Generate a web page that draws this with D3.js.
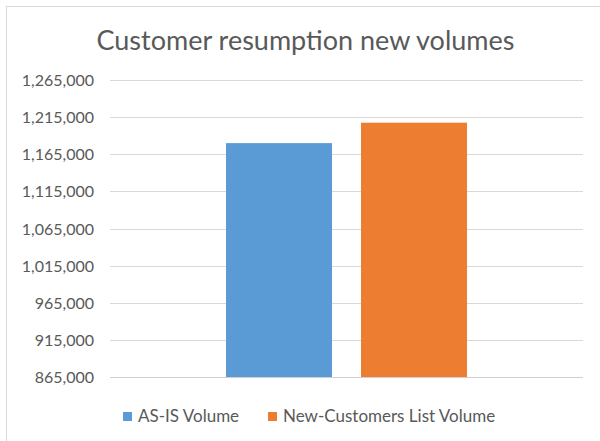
<!DOCTYPE html>
<html><head><meta charset="utf-8">
<script src="https://cdn.jsdelivr.net/npm/d3@7"></script>
<style>body{margin:0;background:#fff}svg{display:block}text{font-family:Lato,"Open Sans",sans-serif;fill:#595959}</style>
</head><body><svg id="c" width="600" height="441"></svg>
<script>
const title = "Customer resumption new volumes";
const categories = [""];
const seriesNames = ["AS-IS Volume", "New-Customers List Volume"];
const seriesValues = [1180000, 1207500];
const seriesColors = ["#5b9bd5", "#ed7d31"];
const tickValues = [865000, 915000, 965000, 1015000, 1065000, 1115000, 1165000, 1215000, 1265000];

const svg = d3.select("#c");
// outer frame (top and left edges visible)
svg.append("line").attr("x1",6).attr("x2",600).attr("y1",6.5).attr("y2",6.5).attr("stroke","#d9d9d9");
svg.append("line").attr("x1",6.5).attr("x2",6.5).attr("y1",6).attr("y2",441).attr("stroke","#d9d9d9");

const x0 = 110, x1 = 583, yTop = 80, yBot = 377;
const y = d3.scaleLinear().domain([865000, 1265000]).range([yBot, yTop]);
const xc = d3.scaleBand().domain(categories).range([x0, x1]).paddingInner(0).paddingOuter(0.4815);
const xs = d3.scaleBand().domain(seriesNames).range([0, xc.bandwidth()]).paddingInner(0.215).paddingOuter(0);

// gridlines
svg.append("g").selectAll("line").data(tickValues).join("line")
  .attr("x1", x0).attr("x2", x1)
  .attr("y1", d => Math.round(y(d)) + 0.5).attr("y2", d => Math.round(y(d)) + 0.5)
  .attr("stroke", d => d === 865000 ? "#d0d0d0" : "#d9d9d9").attr("stroke-width", 1);

// y axis labels
const fmt = d3.format(",");
const ax = svg.append("g").attr("transform", `translate(${x0 - 16},0)`)
  .call(d3.axisLeft(y).tickValues(tickValues).tickFormat(fmt).tickSize(0).tickPadding(0));
ax.select(".domain").remove();
ax.selectAll("text").style("font-size","16px").attr("fill","#595959").attr("dy","0.35em");

// bars
const data = seriesNames.map((s, i) => ({s, v: seriesValues[i], c: seriesColors[i]}));
svg.append("g").selectAll("rect").data(data).join("rect")
  .attr("x", d => xc("") + xs(d.s))
  .attr("width", xs.bandwidth())
  .attr("y", d => y(d.v))
  .attr("height", d => y(865000) - y(d.v))
  .attr("fill", d => d.c);

// title
svg.append("text").attr("x", 305.5).attr("y", 50).attr("text-anchor","middle")
  .style("font-size","27px").text(title);

// legend
const leg = svg.append("g");
const legX = [123, 268];
data.forEach((d, i) => {
  leg.append("rect").attr("x", legX[i]).attr("y", 412).attr("width", 9).attr("height", 9).attr("fill", d.c);
  leg.append("text").attr("x", legX[i] + 15).attr("y", 422).style("font-size","17px").text(d.s);
});
</script></body></html>
